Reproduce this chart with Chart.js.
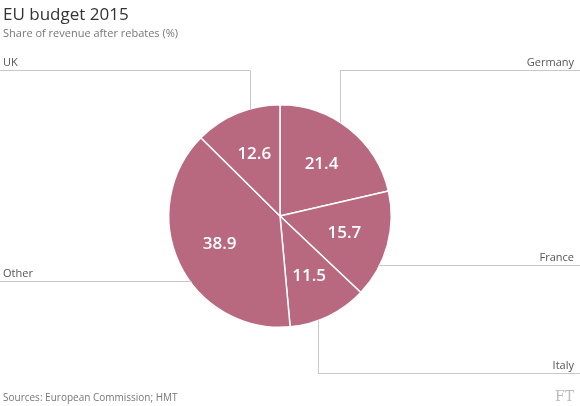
<!DOCTYPE html>
<html>
<head>
<meta charset="utf-8">
<script src="https://cdn.jsdelivr.net/npm/chart.js@4"></script>
<style>
  body { margin: 0; background: #fff; font-family: "Open Sans", sans-serif; }
  #wrap { position: relative; width: 580px; height: 406px; }
  canvas { position: absolute; left: 0; top: 0; }
  .t { position: absolute; left: 3px; top: 2px; font-size: 17px; color: #333; }
  .s { position: absolute; left: 3px; top: 25px; font-size: 11px; color: #777; }
  .src { position: absolute; left: 3px; bottom: 2px; font-size: 10px; color: #777; }
  .ft { position: absolute; right: 6px; bottom: 2px; font-size: 14px; color: #bbb; font-family: "DejaVu Serif", serif; }
</style>
</head>
<body>
<div id="wrap">
  <canvas id="pie" width="580" height="406"></canvas>
  <div class="t">EU budget 2015</div>
  <div class="s">Share of revenue after rebates (%)</div>
  <div class="src">Sources: European Commission; HMT</div>
  <div class="ft">FT</div>
</div>
<script>
// slices clockwise from 12 o'clock
const countries = ['Germany', 'France', 'Italy', 'Other', 'UK'];
const shares = [21.4, 15.7, 11.5, 38.9, 12.6];

// leader: label side, y of underline, x offset of vertical drop from centre
const leaders = {
  Germany: { side: 'right', y: 70, dx: 60 },
  France: { side: 'right', y: 265, dx: null },
  Italy: { side: 'right', y: 373, dx: 38 },
  Other: { side: 'left', y: 281, dx: null },
  UK: { side: 'left', y: 70, dx: -30 }
};

const leaderPlugin = {
  id: 'leaders',
  afterDatasetsDraw(chart) {
    const ctx = chart.ctx;
    const arc = chart.getDatasetMeta(0).data[0];
    const cx = arc.x, cy = arc.y, r = arc.outerRadius;
    ctx.save();
    ctx.strokeStyle = '#c8c8c8';
    ctx.lineWidth = 1;
    ctx.font = '11px "Open Sans"';
    ctx.fillStyle = '#555';
    countries.forEach(name => {
      const L = leaders[name];
      ctx.beginPath();
      let edgeX;
      if (L.dx !== null) {
        const x = cx + L.dx;
        const dy = Math.sqrt(r * r - L.dx * L.dx);
        const yEdge = L.y < cy ? cy - dy : cy + dy;
        ctx.moveTo(x + 0.5, yEdge);
        ctx.lineTo(x + 0.5, L.y + 0.5);
        edgeX = x;
      } else {
        const dy = L.y - cy;
        const dx = Math.sqrt(r * r - dy * dy);
        edgeX = L.side === 'right' ? cx + dx - 2 : cx - dx + 2;
      }
      if (L.side === 'right') {
        ctx.moveTo(edgeX, L.y + 0.5);
        ctx.lineTo(580, L.y + 0.5);
        ctx.textAlign = 'right';
        ctx.fillText(name, 574, L.y - 4);
      } else {
        ctx.moveTo(edgeX, L.y + 0.5);
        ctx.lineTo(0, L.y + 0.5);
        ctx.textAlign = 'left';
        ctx.fillText(name, 3, L.y - 4);
      }
      ctx.stroke();
    });
    // values inside
    ctx.fillStyle = '#fff';
    ctx.font = '600 17px "Open Sans"';
    ctx.textAlign = 'center';
    ctx.textBaseline = 'middle';
    chart.getDatasetMeta(0).data.forEach((a, i) => {
      const mid = (a.startAngle + a.endAngle) / 2;
      const k = 0.6 * r;
      ctx.fillText(shares[i].toFixed(1), cx + Math.cos(mid) * k, cy + Math.sin(mid) * k);
    });
    ctx.restore();
  }
};

new Chart(document.getElementById('pie'), {
  type: 'pie',
  data: {
    labels: countries,
    datasets: [{
      data: shares,
      backgroundColor: '#b8687f',
      borderColor: '#ffffff',
      borderWidth: 1.5
    }]
  },
  options: {
    responsive: false,
    animation: false,
    layout: { padding: { left: 0, right: 20, top: 104, bottom: 78 } },
    plugins: { legend: { display: false }, tooltip: { enabled: false } }
  },
  plugins: [leaderPlugin]
});
</script>
</body>
</html>
